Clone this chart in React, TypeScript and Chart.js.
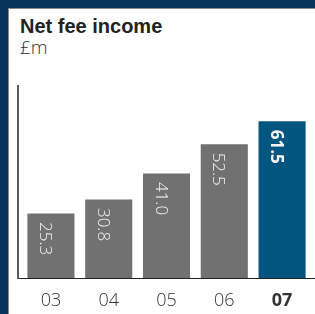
import React, { useEffect, useRef } from "react";
import { Chart, registerables } from "chart.js";

Chart.register(...registerables);

const categories = ["03", "04", "05", "06", "07"];
const values = [25.3, 30.8, 41.0, 52.5, 61.5];
const valueLabels = ["25.3", "30.8", "41.0", "52.5", "61.5"];
const highlightIndex = 4;

const GRAY = "#717171";
const BLUE = "#02557f";
const FONT = "'Open Sans', 'Liberation Sans', sans-serif";

const barLabelPlugin = {
  id: "barLabels",
  afterDatasetsDraw(chart: any) {
    const ctx = chart.ctx;
    const meta = chart.getDatasetMeta(0);
    meta.data.forEach((bar: any, i: number) => {
      ctx.save();
      ctx.translate(bar.x - 11, bar.y + 8.5);
      ctx.rotate(Math.PI / 2);
      ctx.fillStyle = "#f4f4f4";
      ctx.font = `${i === highlightIndex ? "bold" : "300"} 17px ${FONT}`;
      ctx.textAlign = "left";
      ctx.textBaseline = "alphabetic";
      ctx.fillText(valueLabels[i], 0, 0);
      ctx.restore();
    });
  },
};

export default function App() {
  const canvasRef = useRef<HTMLCanvasElement | null>(null);

  useEffect(() => {
    if (!canvasRef.current) return;
    const chart = new Chart(canvasRef.current, {
      type: "bar",
      data: {
        datasets: [
          {
            data: values.map((v, i) => ({ x: i, y: v })) as any,
            backgroundColor: values.map((_, i) => (i === highlightIndex ? BLUE : GRAY)),
            borderWidth: 0,
            barPercentage: 1,
            categoryPercentage: 0.815,
          },
        ],
      },
      options: {
        animation: false,
        responsive: false,
        maintainAspectRatio: false,
        devicePixelRatio: 1,
        layout: { padding: { left: 18, right: 0, top: 86, bottom: 4 } },
        plugins: { legend: { display: false }, tooltip: { enabled: false } },
        scales: {
          x: {
            type: "linear",
            offset: false,
            min: -0.57,
            max: 4.57,
            afterBuildTicks: (axis: any) => {
              axis.ticks = categories.map((_, i) => ({ value: i }));
            },
            afterFit: (axis: any) => {
              axis.height = 32;
            },
            grid: { display: false, drawTicks: false, offset: false },
            border: { display: true, color: "#222", width: 1 },
            ticks: {
              autoSkip: false,
              maxRotation: 0,
              padding: 12,
              color: "#333",
              font: (c: any) => ({
                family: FONT,
                size: 18,
                weight: c.index === highlightIndex ? "bold" : "300",
              }),
              callback: (v: any) => categories[Math.round(Number(v))] ?? "",
            },
          },
          y: {
            min: 0,
            max: 75.3,
            grid: { display: false, drawTicks: false },
            border: { display: true, color: "#5a5a5a", width: 2 },
            ticks: { display: false },
          },
        },
      },
      plugins: [barLabelPlugin],
    });
    return () => chart.destroy();
  }, []);

  return (
    <div
      style={{
        position: "fixed",
        left: 0,
        top: 0,
        width: 315,
        height: 314,
        background: "#06345a",
        overflow: "hidden",
      }}
    >
      <div
        style={{
          position: "absolute",
          left: 8,
          top: 8,
          width: 307,
          height: 306,
          background: "#fff",
          borderTop: "1px solid #8a8a8a",
          borderLeft: "1px solid #8a8a8a",
          boxSizing: "border-box",
        }}
      />
      <div
        style={{
          position: "absolute",
          left: 20,
          top: 16,
          fontFamily: "'Liberation Sans', Arial, sans-serif",
          fontWeight: "bold",
          fontSize: 20,
          lineHeight: "20px",
          color: "#222",
          whiteSpace: "nowrap",
        }}
      >
        Net fee income
      </div>
      <div
        style={{
          position: "absolute",
          left: 20,
          top: 37,
          fontFamily: FONT,
          fontWeight: 300,
          fontSize: 19,
          lineHeight: "20px",
          color: "#333",
          whiteSpace: "nowrap",
        }}
      >
        £m
      </div>
      <canvas
        ref={canvasRef}
        width={315}
        height={314}
        style={{ position: "absolute", left: 0, top: 0, width: 315, height: 314 }}
      />
    </div>
  );
}
